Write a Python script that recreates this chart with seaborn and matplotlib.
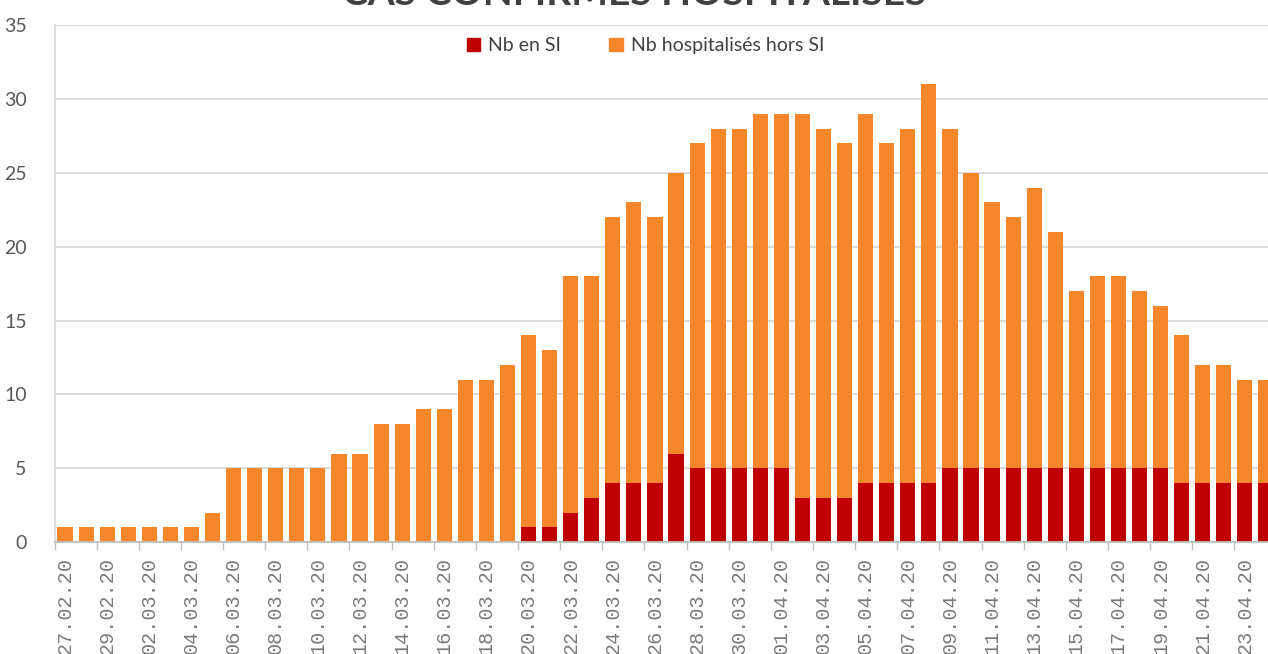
import pandas as pd
import seaborn as sns
import numpy as np
import matplotlib.pyplot as plt
from matplotlib.patches import Patch

# daily counts, 27.02.20 -> 24.04.20
dates = pd.date_range('2020-02-27', '2020-04-24').strftime('%d.%m.%y').tolist()

si = [0, 0, 0, 0, 0, 0, 0, 0, 0, 0, 0, 0, 0, 0, 0, 0, 0, 0, 0, 0, 0, 0,
      1, 1, 2, 3, 4, 4, 4, 6, 5, 5, 5, 5, 5, 3, 3, 3, 4, 4, 4, 4,
      5, 5, 5, 5, 5, 5, 5, 5, 5, 5, 5, 4, 4, 4, 4, 4]
hors_si = [1, 1, 1, 1, 1, 1, 1, 2, 5, 5, 5, 5, 5, 6, 6, 8, 8, 9, 9, 11, 11, 12,
           13, 12, 16, 15, 18, 19, 18, 19, 22, 23, 23, 24, 24, 26, 25, 24, 25, 23, 24, 27,
           23, 20, 18, 17, 19, 16, 12, 13, 13, 12, 11, 10, 8, 8, 7, 7]

red = '#C00000'
orange = '#F5862A'
grey_txt = '#595959'

data = pd.DataFrame({'date': dates, 'si': si, 'hors_si': hors_si})
data['total'] = data['si'] + data['hors_si']

sns.set_theme(style='white')
plt.rcParams['font.family'] = ['Lato', 'DejaVu Sans']

fig = plt.figure(figsize=(12.68, 6.54), dpi=100)
ax = fig.add_axes([0.043, 0.171, 0.9637, 0.7905])

# stacked: total in orange, SI drawn over it
sns.barplot(x='date', y='total', data=data, color=orange, saturation=1,
            width=0.72, linewidth=0, ax=ax)
sns.barplot(x='date', y='si', data=data, color=red, saturation=1,
            width=0.72, linewidth=0, ax=ax)

ax.set_xlim(-0.5, len(dates) - 0.5)
ax.set_ylim(0, 35)
ax.set_yticks(range(0, 36, 5))
ax.set_xlabel('')
ax.set_ylabel('')

ax.set_axisbelow(True)
ax.yaxis.grid(True, color='#D9D9D9', linewidth=1.3)
ax.xaxis.grid(False)

pos = np.arange(0, len(dates), 2)
ax.set_xticks(pos)
ax.set_xticklabels([dates[i] for i in pos], rotation=90,
                   family='Liberation Mono', fontsize=14.5, color='#7A7A7A')
ax.set_xticks(np.arange(-0.5, len(dates), 2), minor=True)
ax.tick_params(axis='x', which='major', length=0, pad=11)
ax.tick_params(axis='x', which='minor', length=6, width=1, color='#BFBFBF', bottom=True)
ax.tick_params(axis='y', length=0, pad=20, labelsize=14, labelcolor=grey_txt)

for s in ['top', 'right']:
    ax.spines[s].set_visible(False)
ax.spines['left'].set_color('#D9D9D9')
ax.spines['bottom'].set_color('#BFBFBF')
ax.spines['bottom'].set_linewidth(1.3)

handles = [Patch(color=red, label='Nb en SI'),
           Patch(color=orange, label='Nb hospitalisés hors SI')]
fig.legend(handles=handles, loc='center', bbox_to_anchor=(0.509, 0.930), ncol=2,
           frameon=False, fontsize=14, labelcolor='#404040',
           handlelength=0.7, handleheight=0.7, handletextpad=0.4, columnspacing=2.5)

# title is cropped at the top edge, as in the source image
fig.text(0.5, 1 - 5 / 654, 'CAS CONFIRMÉS HOSPITALISÉS', ha='center', va='baseline',
         fontsize=28, fontweight='bold', color='#404040')

fig.savefig('out.png', dpi=100)
